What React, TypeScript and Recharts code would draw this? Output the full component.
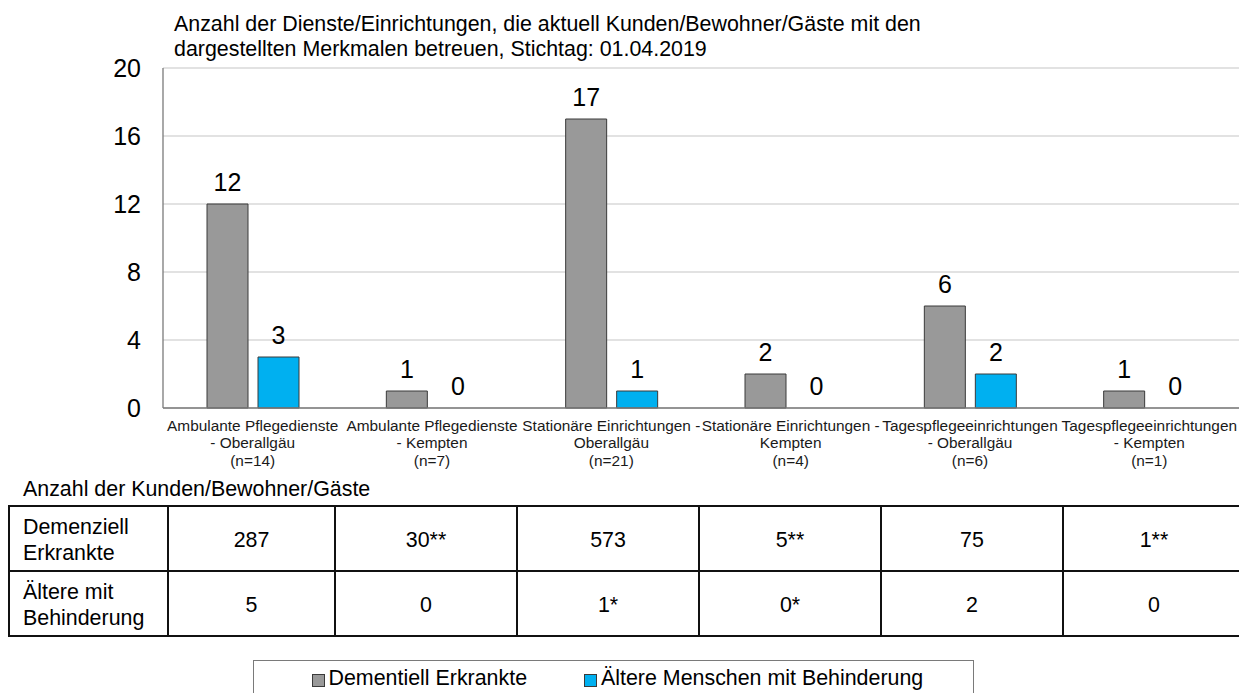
import React from 'react';
import { BarChart, Bar, XAxis, YAxis, CartesianGrid, LabelList, Legend, Rectangle } from 'recharts';

// ---------- data ----------
const categoryLines: string[][] = [
  ['Ambulante Pflegedienste', '- Oberallgäu', '(n=14)'],
  ['Ambulante Pflegedienste', '- Kempten', '(n=7)'],
  ['Stationäre Einrichtungen -', 'Oberallgäu', '(n=21)'],
  ['Stationäre Einrichtungen -', 'Kempten', '(n=4)'],
  ['Tagespflegeeinrichtungen', '- Oberallgäu', '(n=6)'],
  ['Tagespflegeeinrichtungen', '- Kempten', '(n=1)'],
];
const dementiaCounts = [12, 1, 17, 2, 6, 1];
const disabilityCounts = [3, 0, 1, 0, 2, 0];
const yTicks = [0, 4, 8, 12, 16, 20];
const seriesNames = ['Dementiell Erkrankte', 'Ältere Menschen mit Behinderung'];
const titleLines = [
  'Anzahl der Dienste/Einrichtungen, die aktuell Kunden/Bewohner/Gäste mit den',
  'dargestellten Merkmalen betreuen, Stichtag: 01.04.2019',
];
const tableCaption = 'Anzahl der Kunden/Bewohner/Gäste';
const tableRowLabels: string[][] = [
  ['Demenziell', 'Erkrankte'],
  ['Ältere mit', 'Behinderung'],
];
const tableDementia = ['287', '30**', '573', '5**', '75', '1**'];
const tableDisability = ['5', '0', '1*', '0*', '2', '0'];

// ---------- styles / layout ----------
const FONT = "'Liberation Sans', Arial, Helvetica, sans-serif";
const GRAY = '#999999';
const BLUE = '#00B0F0';
const BAR_STROKE = '#3a3a3a';
const TEXT_SIZE = 21.4;
const NUM_SIZE = 25;
const colX = [9, 168, 335, 517, 699, 881, 1063, 1245];
const rowY = [506, 571, 636];
const legendItemLeft = [58.5, 331];

const data = categoryLines.map((lines, i) => ({
  name: lines.join(' '),
  dementia: dementiaCounts[i],
  disability: disabilityCounts[i],
}));

// keep zero-valued bars in the layout (so their value labels are drawn) without drawing a visible rect
const zeroMinSize = (value: any) => (Number(value) === 0 ? 0.3 : 0);
const BarShape = (p: any) => (p.height > 1 ? <Rectangle {...p} /> : <g />);

const CategoryTick = (props: any) => {
  const { x, y, payload } = props;
  const lines = categoryLines.find((l) => l.join(' ') === payload.value) || [String(payload.value)];
  return (
    <text x={x} y={y} textAnchor="middle" fontSize={15.4} fill="#1a1a1a" fontFamily={FONT}>
      {lines.map((l, i) => (
        <tspan key={i} x={x} y={y + 22.8 + i * 17.4}>
          {l}
        </tspan>
      ))}
    </text>
  );
};

const renderLegend = (props: any) => {
  const payload = (props && props.payload) || [];
  return (
    <div
      style={{
        position: 'relative',
        width: 721,
        height: 40,
        border: '1px solid #7a7a7a',
        boxSizing: 'border-box',
        background: '#fff',
        fontFamily: FONT,
        fontSize: TEXT_SIZE,
        color: '#000',
      }}
    >
      {payload.map((p: any, i: number) => (
        <React.Fragment key={i}>
          <div
            style={{
              position: 'absolute',
              left: legendItemLeft[i] - 1,
              top: 12.5,
              width: 11,
              height: 11,
              background: p.color,
              border: '1px solid #3a3a3a',
              boxSizing: 'content-box',
            }}
          />
          <div
            style={{
              position: 'absolute',
              left: legendItemLeft[i] + 16,
              top: 4.5,
              lineHeight: '25px',
              whiteSpace: 'nowrap',
            }}
          >
            {p.value}
          </div>
        </React.Fragment>
      ))}
    </div>
  );
};

export default function App() {
  return (
    <div
      style={{
        position: 'absolute',
        left: 0,
        top: 0,
        width: 1239,
        height: 693,
        overflow: 'hidden',
        background: '#fff',
      }}
    >
      <BarChart
        width={1239}
        height={693}
        data={data}
        margin={{ top: 68, right: 0, left: 0, bottom: 225 }}
        barSize={41}
        barGap={10}
      >
        <CartesianGrid horizontal vertical={false} stroke="#d9d9d9" strokeWidth={1.3} />
        <XAxis
          dataKey="name"
          height={60}
          interval={0}
          tickLine={false}
          tickSize={0}
          tickMargin={0}
          axisLine={{ stroke: '#7a7a7a', strokeWidth: 1.3 }}
          tick={<CategoryTick />}
        />
        <YAxis
          width={163}
          domain={[0, 20]}
          ticks={yTicks}
          interval={0}
          tickLine={false}
          tickSize={0}
          tickMargin={22}
          axisLine={{ stroke: '#7a7a7a', strokeWidth: 1.3 }}
          tick={{ fontSize: NUM_SIZE, fill: '#000', fontFamily: FONT }}
        />
        <Legend
          layout="horizontal"
          verticalAlign="middle"
          align="center"
          wrapperStyle={{ position: 'absolute', left: 253, top: 660, width: 721, height: 40 }}
          content={renderLegend}
        />
        <Bar
          dataKey="dementia"
          name={seriesNames[0]}
          fill={GRAY}
          stroke={BAR_STROKE}
          strokeWidth={1}
          minPointSize={zeroMinSize}
          shape={BarShape}
          isAnimationActive={false}
        >
          <LabelList dataKey="dementia" position="top" offset={13} fontSize={NUM_SIZE} fill="#000" fontFamily={FONT} />
        </Bar>
        <Bar
          dataKey="disability"
          name={seriesNames[1]}
          fill={BLUE}
          stroke={BAR_STROKE}
          strokeWidth={1}
          minPointSize={zeroMinSize}
          shape={BarShape}
          isAnimationActive={false}
        >
          <LabelList dataKey="disability" position="top" offset={13} fontSize={NUM_SIZE} fill="#000" fontFamily={FONT} />
        </Bar>
      </BarChart>

      <svg
        width={1239}
        height={693}
        style={{ position: 'absolute', left: 0, top: 0, pointerEvents: 'none' }}
        fontFamily={FONT}
      >
        {titleLines.map((t, i) => (
          <text key={i} x={174} y={30.7 + i * 25} fontSize={TEXT_SIZE} fill="#000">
            {t}
          </text>
        ))}
        <text x={23} y={495.7} fontSize={TEXT_SIZE} fill="#000">
          {tableCaption}
        </text>
        {rowY.map((y, i) => (
          <line key={'h' + i} x1={colX[0] - 1} x2={colX[colX.length - 1]} y1={y} y2={y} stroke="#111" strokeWidth={2} />
        ))}
        {colX.slice(0, -1).map((x, i) => (
          <line key={'v' + i} x1={x} x2={x} y1={rowY[0]} y2={rowY[2]} stroke="#111" strokeWidth={2} />
        ))}
        {tableRowLabels.map((lines, r) =>
          lines.map((l, k) => (
            <text key={'rl' + r + k} x={23} y={534 + r * 65 + k * 26.3} fontSize={TEXT_SIZE} fill="#000">
              {l}
            </text>
          ))
        )}
        {[tableDementia, tableDisability].map((row, r) =>
          row.map((v, c) => (
            <text
              key={'c' + r + c}
              x={(colX[c + 1] + colX[c + 2]) / 2}
              y={547 + r * 65}
              fontSize={TEXT_SIZE}
              textAnchor="middle"
              fill="#000"
            >
              {v}
            </text>
          ))
        )}
      </svg>
    </div>
  );
}
